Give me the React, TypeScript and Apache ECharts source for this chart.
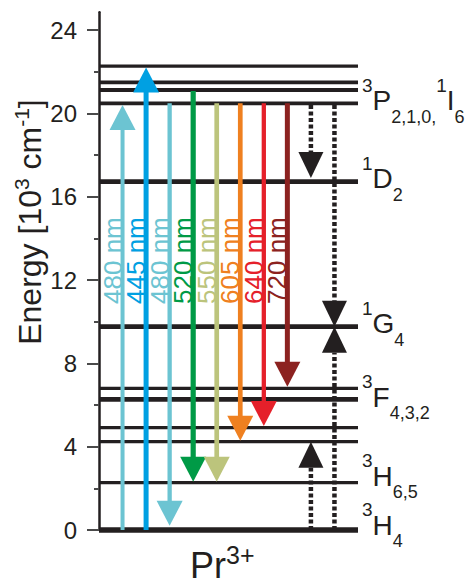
import React, { useEffect, useRef } from "react";
import * as echarts from "echarts";

const FONT = '"Liberation Sans", Arial, Helvetica, sans-serif';
const INK = "#231f20";

// Energy levels of Pr3+ (10^3 cm^-1)
const levelEnergies = [0, 2.27, 4.24, 4.91, 6.27, 6.8, 9.76, 16.72, 20.48, 21.12, 21.49, 22.27];
const levelWidths = [5.5, 3.3, 3.3, 3.3, 4.8, 3.3, 4.7, 4.7, 3.7, 4, 3.7, 3.3];

// Level labels (rich text) and the energy where they sit
const levelLabelTexts = [
  "{s|3}{m|H}{b|4}",
  "{s|3}{m|H}{b|6,5}",
  "{s|3}{m|F}{b|4,3,2}",
  "{s|1}{m|G}{b|4}",
  "{s|1}{m|D}{b|2}",
  "{s|3}{m|P}{b|2,1,0,}{s|1}{m|I}{b|6}",
];
const levelLabelEnergies = [0.24, 2.59, 6.38, 9.89, 16.85, 20.6];

// Coloured radiative transitions
const arrowColumns = [1, 2, 3, 4, 5, 6, 7, 8];
const arrowLabels = ["480 nm", "445 nm", "480 nm", "520 nm", "550 nm", "605 nm", "640 nm", "720 nm"];
const arrowFrom = [0, 0, 20.48, 21.07, 20.48, 20.48, 20.48, 20.48];
const arrowTo = [20.4, 22.2, 0.2, 2.32, 2.32, 4.28, 4.99, 6.88];
const arrowColors = ["#6cc4d2", "#00a0e2", "#6cc4d2", "#009a46", "#bcc47c", "#ef8020", "#e5202a", "#8c2220"];
const arrowWidths = [4, 5, 4.3, 5.2, 4.7, 4.7, 4.3, 5];
const arrowLabelStart = 10.85;

// Dotted non-radiative / cross-relaxation transitions
const dottedColumns = [9, 9, 10, 10];
const dottedFrom = [20.4, 0, 20.4, 0];
const dottedTo = [16.9, 4.24, 9.76, 9.76];

// Axis ticks
const yTicks = [0, 4, 8, 12, 16, 20, 24];
const yMinorTicks = [2, 6, 10, 14, 18, 22];
const Y_MAX = 24.85;
const X_MAX = 11;

export default function App() {
  const ref = useRef<HTMLDivElement | null>(null);

  useEffect(() => {
    if (!ref.current) return;
    const chart = echarts.init(ref.current, undefined, { renderer: "svg" });

    const levelRich = {
      m: { fontSize: 28, fontFamily: FONT, fill: INK, lineHeight: 50, verticalAlign: "middle" },
      s: { fontSize: 19, fontFamily: FONT, fill: INK, lineHeight: 33.6, verticalAlign: "top" },
      b: { fontSize: 18, fontFamily: FONT, fill: INK, lineHeight: 19, verticalAlign: "bottom" },
    };

    const option: any = {
      animation: false,
      backgroundColor: "#ffffff",
      grid: { left: 99, right: 109, top: 12.3, bottom: 55 },
      xAxis: { type: "value", min: 0, max: X_MAX, show: false },
      yAxis: [
        {
          type: "value",
          min: 0,
          max: Y_MAX,
          interval: 4,
          splitLine: { show: false },
          axisLine: { show: true, lineStyle: { color: INK, width: 2.5 } },
          axisTick: {
            show: true,
            length: 12,
            customValues: yTicks,
            lineStyle: { color: "#4a4a4a", width: 2 },
          },
          axisLabel: {
            customValues: yTicks,
            margin: 22,
            fontSize: 24,
            color: INK,
            fontFamily: FONT,
          },
        },
        {
          type: "value",
          min: 0,
          max: Y_MAX,
          position: "left",
          splitLine: { show: false },
          axisLine: { show: false },
          axisLabel: { show: false },
          axisTick: {
            show: true,
            length: 5,
            customValues: yMinorTicks,
            lineStyle: { color: "#4a4a4a", width: 2 },
          },
        },
      ],
      graphic: [
        {
          type: "text",
          x: 30,
          y: 222,
          rotation: Math.PI / 2,
          style: {
            text: "{m|Energy [10}{s|3}{m| cm}{s|-1}{m|]}",
            align: "center",
            verticalAlign: "middle",
            rich: {
              m: { fontSize: 32, fontFamily: FONT, fill: INK, lineHeight: 38, verticalAlign: "middle" },
              s: { fontSize: 21, fontFamily: FONT, fill: INK, lineHeight: 24, verticalAlign: "top" },
            },
          },
        },
        {
          type: "group",
          children: [
            {
              type: "text",
              x: 190,
              y: 565,
              style: {
                text: "Pr",
                fontSize: 36,
                fontFamily: FONT,
                fill: INK,
                align: "left",
                verticalAlign: "middle",
              },
            },
            {
              type: "text",
              x: 226,
              y: 555,
              style: {
                text: "3+",
                fontSize: 25,
                fontFamily: FONT,
                fill: INK,
                align: "left",
                verticalAlign: "middle",
              },
            },
          ],
        },
      ],
      series: [
        {
          type: "custom",
          name: "levels",
          clip: false,
          z: 2,
          data: levelEnergies.map((e, i) => [e, i]),
          renderItem: (params: any, api: any) => {
            const e = api.value(0);
            const i = api.value(1);
            const a = api.coord([0, e]);
            const b = api.coord([X_MAX, e]);
            return {
              type: "line",
              shape: { x1: a[0], y1: a[1], x2: b[0], y2: b[1] },
              style: { stroke: INK, lineWidth: levelWidths[i] },
            };
          },
        },
        {
          type: "custom",
          name: "levelLabels",
          clip: false,
          z: 3,
          data: levelLabelEnergies.map((e, i) => [e, i]),
          renderItem: (params: any, api: any) => {
            const e = api.value(0);
            const i = api.value(1);
            const p = api.coord([X_MAX, e]);
            return {
              type: "text",
              x: p[0] + 4,
              y: p[1],
              style: {
                text: levelLabelTexts[i],
                align: "left",
                verticalAlign: "middle",
                rich: levelRich,
              },
            };
          },
        },
        {
          type: "custom",
          name: "transitions",
          clip: false,
          z: 4,
          data: arrowColumns.map((c, i) => [c, arrowFrom[i], arrowTo[i], i]),
          renderItem: (params: any, api: any) => {
            const c = api.value(0);
            const f = api.value(1);
            const t = api.value(2);
            const i = api.value(3);
            const color = arrowColors[i];
            const p0 = api.coord([c, f]);
            const p1 = api.coord([c, t]);
            const dir = p1[1] > p0[1] ? 1 : -1;
            const H = 25;
            const W = 26;
            const baseY = p1[1] - dir * H;
            const lp = api.coord([c, arrowLabelStart]);
            return {
              type: "group",
              children: [
                {
                  type: "text",
                  x: p0[0] + 3,
                  y: lp[1],
                  rotation: Math.PI / 2,
                  style: {
                    text: arrowLabels[i],
                    fill: color,
                    fontSize: 26,
                    fontFamily: FONT,
                    align: "left",
                    verticalAlign: "bottom",
                  },
                },
                {
                  type: "line",
                  shape: { x1: p0[0], y1: p0[1], x2: p0[0], y2: baseY + dir * 1 },
                  style: { stroke: color, lineWidth: arrowWidths[i] },
                },
                {
                  type: "polygon",
                  shape: {
                    points: [
                      [p1[0], p1[1]],
                      [p1[0] - W / 2, baseY],
                      [p1[0] + W / 2, baseY],
                    ],
                  },
                  style: { fill: color },
                },
              ],
            };
          },
        },
        {
          type: "custom",
          name: "dotted",
          clip: false,
          z: 4,
          data: dottedColumns.map((c, i) => [c, dottedFrom[i], dottedTo[i]]),
          renderItem: (params: any, api: any) => {
            const c = api.value(0);
            const f = api.value(1);
            const t = api.value(2);
            const p0 = api.coord([c, f]);
            const p1 = api.coord([c, t]);
            const dir = p1[1] > p0[1] ? 1 : -1;
            const H = 26;
            const W = 25;
            const baseY = p1[1] - dir * H;
            return {
              type: "group",
              children: [
                {
                  type: "line",
                  shape: { x1: p0[0], y1: p0[1], x2: p0[0], y2: baseY },
                  style: { stroke: INK, lineWidth: 4.5, lineDash: [4, 2.5] },
                },
                {
                  type: "polygon",
                  shape: {
                    points: [
                      [p1[0], p1[1]],
                      [p1[0] - W / 2, baseY],
                      [p1[0] + W / 2, baseY],
                    ],
                  },
                  style: { fill: INK },
                },
              ],
            };
          },
        },
      ],
    };

    chart.setOption(option);
    return () => chart.dispose();
  }, []);

  return (
    <div
      ref={ref}
      style={{ position: "fixed", left: 0, top: 0, width: 467, height: 585, background: "#fff" }}
    />
  );
}
